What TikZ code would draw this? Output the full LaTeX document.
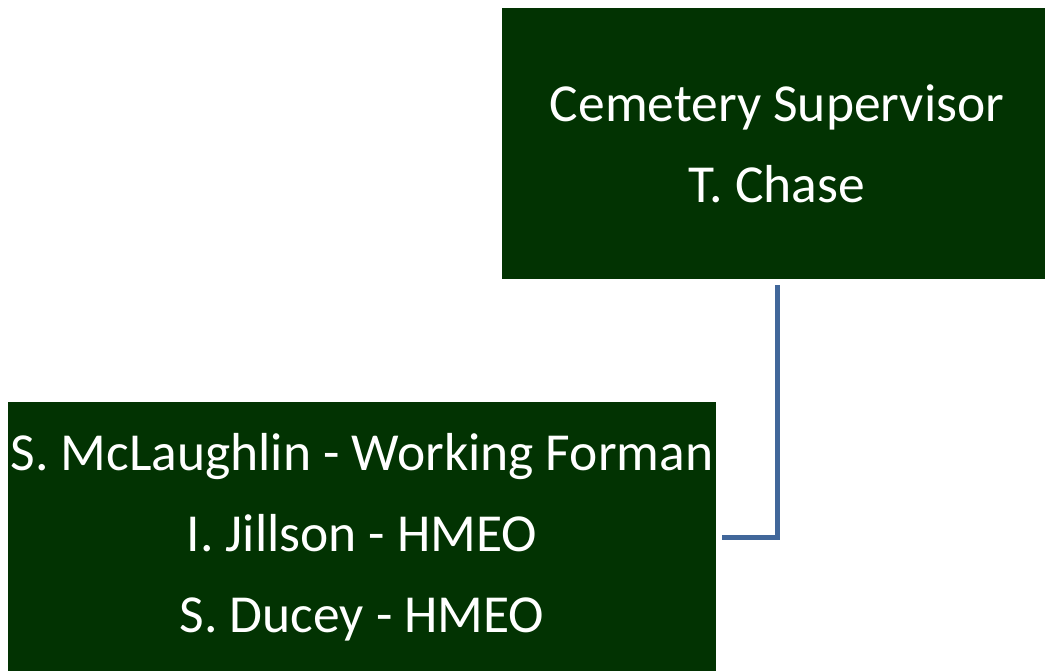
\documentclass[tikz,border=0pt]{standalone}
\usepackage{fontspec}
\setmainfont{Carlito}
\definecolor{OrgGreen}{HTML}{023302}
\definecolor{OrgBlue}{HTML}{41679A}

\begin{document}
\begin{tikzpicture}[x=1pt,y=-1pt,line join=miter,
  orgbox/.style={fill=OrgGreen,text=white,inner sep=0pt,align=center,font=\fontsize{53.5}{81}\selectfont},
  orglink/.style={OrgBlue,line width=5pt}]
  \useasboundingbox (0,0) rectangle (1045,671);
  \begin{scope}
    \clip (0,0) rectangle (1045,671);
    \node[orgbox,minimum width=550pt,minimum height=271pt] (sup) at (777,143.5) {Cemetery Supervisor\\T. Chase};
    \node[orgbox,minimum width=708pt,minimum height=270pt] (crew) at (362,537) {S. McLaughlin - Working Forman\\I. Jillson - HMEO\\S. Ducey - HMEO};
  \end{scope}
  \draw[orglink] ([yshift=-6pt]sup.south) |- ([xshift=6pt]crew.east);
\end{tikzpicture}
\end{document}
